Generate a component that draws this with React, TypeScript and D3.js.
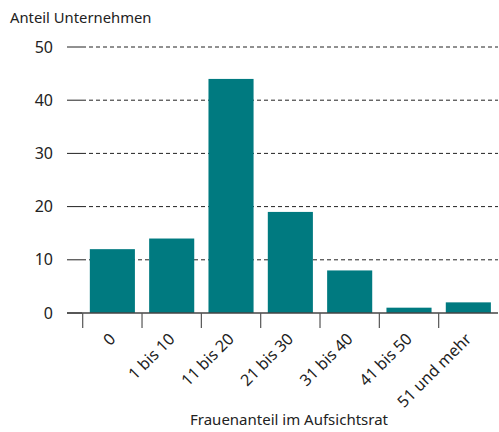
import * as d3 from "d3";
import React from "react";

const categories = ["0", "1 bis 10", "11 bis 20", "21 bis 30", "31 bis 40", "41 bis 50", "51 und mehr"];
const values = [12, 14, 44, 19, 8, 1, 2];
const yTicks = [0, 10, 20, 30, 40, 50];

const W = 499;
const H = 432;
const axisLeft = 67;
const bandLeft = 82.7;
const right = 498;
const y0 = 313;
const y50 = 47;
const font = "'Noto Sans', 'Open Sans', sans-serif";

export default function App() {
    const x = d3.scaleBand<string>().domain(categories).range([bandLeft, right]).paddingInner(0.24).paddingOuter(0.12);
    const y = d3.scaleLinear().domain([0, 50]).range([y0, y50]);
    const step = x.step();

    return (
        <svg width={W} height={H} style={{ position: "absolute", left: 0, top: 0 }} fontFamily={font}>
            <text x={10} y={23} fontSize={14.8} fill="#222">Anteil Unternehmen</text>

            {/* grid + y ticks */}
            {yTicks.map((t) => (
                <g key={t}>
                    <text x={53} y={y(t) + 5.5} fontSize={16} textAnchor="end" fill="#222">{t}</text>
                    <line x1={axisLeft} x2={axisLeft + 15} y1={y(t)} y2={y(t)} stroke="#222" strokeWidth={1} />
                    {t > 0 && (
                        <line x1={axisLeft + 15} x2={right} y1={y(t)} y2={y(t)} stroke="#222" strokeWidth={1} strokeDasharray="4,3" />
                    )}
                </g>
            ))}

            {/* bars */}
            {categories.map((c, i) => (
                <rect key={c} x={x(c)} y={y(values[i])} width={x.bandwidth()} height={y0 - y(values[i])} fill="#007a80" />
            ))}

            {/* baseline */}
            <line x1={axisLeft} x2={right} y1={y0} y2={y0} stroke="#444" strokeWidth={1.5} />

            {/* category ticks */}
            {categories.map((c, i) => (
                <line key={c} x1={bandLeft + i * step} x2={bandLeft + i * step} y1={y0} y2={y0 + 15} stroke="#555" strokeWidth={1.2} />
            ))}

            {/* category labels */}
            {categories.map((c) => {
                const cx = (x(c) as number) + x.bandwidth() / 2 + 4;
                const cy = y0 + 27;
                return (
                    <text key={c} x={cx} y={cy} fontSize={16} textAnchor="end" fill="#222" transform={`rotate(-45, ${cx}, ${cy})`}>{c}</text>
                );
            })}

            <text x={289} y={425} fontSize={15} textAnchor="middle" fill="#222">Frauenanteil im Aufsichtsrat</text>
        </svg>
    );
}
